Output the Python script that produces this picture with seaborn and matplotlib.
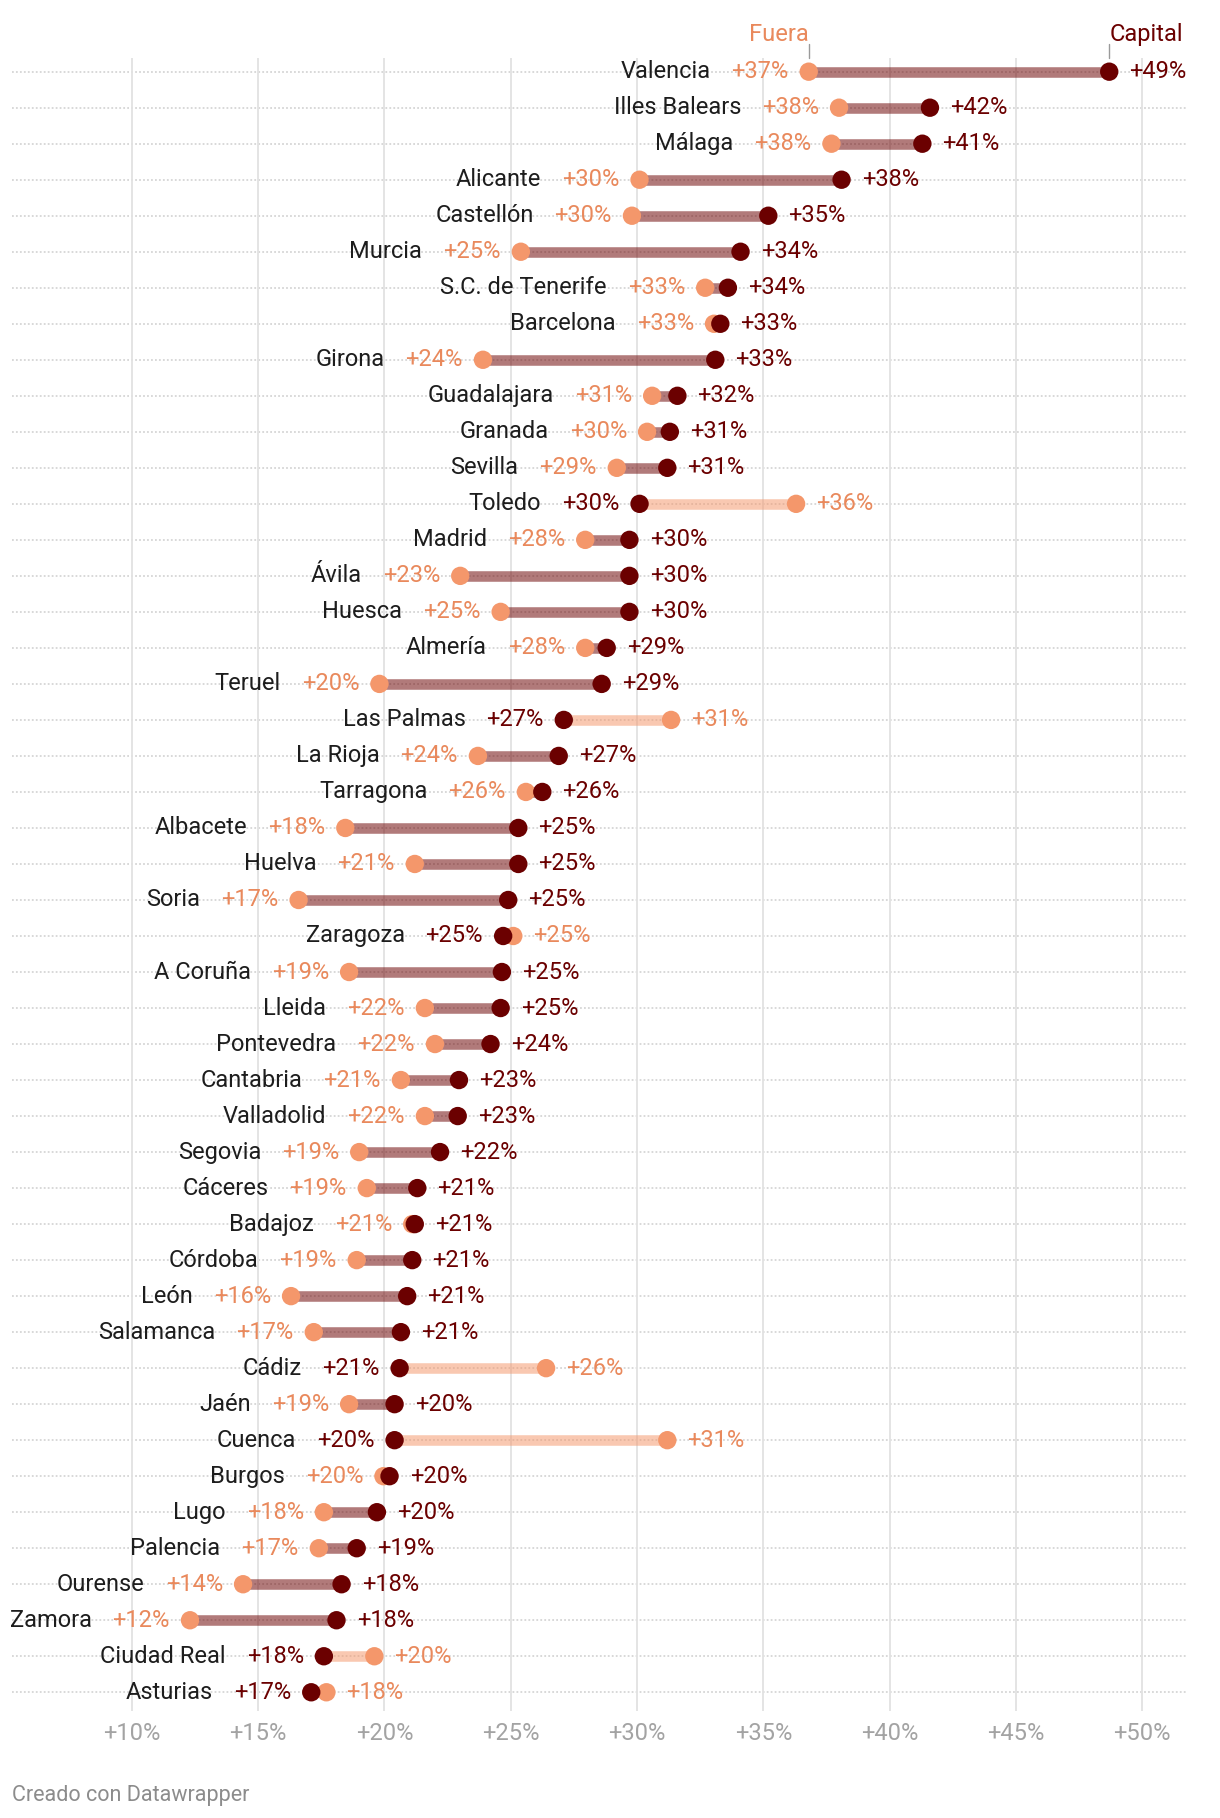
import numpy as np
import pandas as pd
import matplotlib
matplotlib.use("Agg")
import matplotlib.pyplot as plt
import matplotlib.transforms as mtransforms
import seaborn as sns

# ---------------- data ----------------
provincias = ["Valencia", "Illes Balears", "Málaga", "Alicante", "Castellón", "Murcia",
              "S.C. de Tenerife", "Barcelona", "Girona", "Guadalajara", "Granada", "Sevilla",
              "Toledo", "Madrid", "Ávila", "Huesca", "Almería", "Teruel", "Las Palmas",
              "La Rioja", "Tarragona", "Albacete", "Huelva", "Soria", "Zaragoza", "A Coruña",
              "Lleida", "Pontevedra", "Cantabria", "Valladolid", "Segovia", "Cáceres",
              "Badajoz", "Córdoba", "León", "Salamanca", "Cádiz", "Jaén", "Cuenca", "Burgos",
              "Lugo", "Palencia", "Ourense", "Zamora", "Ciudad Real", "Asturias"]

capital = [48.7, 41.6, 41.3, 38.1, 35.2, 34.1,
           33.6, 33.3, 33.1, 31.6, 31.3, 31.2,
           30.1, 29.7, 29.7, 29.7, 28.8, 28.6, 27.1,
           26.9, 26.25, 25.3, 25.3, 24.9, 24.7, 24.65,
           24.6, 24.2, 22.95, 22.9, 22.2, 21.3,
           21.2, 21.1, 20.9, 20.65, 20.6, 20.4, 20.4, 20.2,
           19.7, 18.9, 18.3, 18.1, 17.6, 17.1]

fuera = [36.8, 38.0, 37.7, 30.1, 29.8, 25.4,
         32.7, 33.05, 23.9, 30.6, 30.4, 29.2,
         36.3, 27.95, 23.0, 24.6, 27.95, 19.8, 31.35,
         23.7, 25.6, 18.45, 21.2, 16.6, 25.1, 18.6,
         21.6, 22.0, 20.65, 21.6, 19.0, 19.3,
         21.1, 18.9, 16.3, 17.2, 26.4, 18.6, 31.2, 19.96,
         17.6, 17.4, 14.4, 12.3, 19.6, 17.7]

tick_values = [10, 15, 20, 25, 30, 35, 40, 45, 50]
tick_labels = ["+10%", "+15%", "+20%", "+25%", "+30%", "+35%", "+40%", "+45%", "+50%"]

# ---------------- style ----------------
sns.set_theme(style="white")
plt.rcParams['font.family'] = ['Roboto', 'DejaVu Sans']

C_CAP = '#6b0000'
C_FUE_DOT = '#f4976b'
C_FUE_TXT = '#e9895c'
C_NAME = '#1d1d1d'
FS = 17

df = pd.DataFrame({'provincia': provincias, 'capital': capital, 'fuera': fuera})
df['pos'] = np.arange(len(df))
long = df.melt(id_vars=['provincia', 'pos'], value_vars=['fuera', 'capital'],
               var_name='tipo', value_name='valor')

W, H = 1220, 1818
fig = plt.figure(figsize=(W / 100, H / 100), dpi=100)
ax_top, ax_bot = 58, 1711
ax = fig.add_axes([12 / W, 1 - ax_bot / H, 1174 / W, (ax_bot - ax_top) / H])
ax.set_xlim(5.25, 51.74)
ax.set_ylim(len(df) - 1 + 0.52, -0.38)

# row dotted lines
for p in df['pos']:
    ax.axhline(p, color='#d6d6d6', ls=(0, (1, 1.2)), lw=1.3, zorder=0)

# vertical gridlines
ax.set_xticks(tick_values)
ax.set_xticklabels(tick_labels)
ax.grid(axis='x', color='#e2e2e2', lw=1.3, zorder=0)
ax.grid(axis='y', visible=False)
ax.set_yticks([])
ax.tick_params(axis='x', length=0, pad=8, labelsize=FS, labelcolor='#a3a3a3')
for s in ax.spines.values():
    s.set_visible(False)

# connecting bars (semi-transparent, so the dotted row line shows through)
lo = df[['capital', 'fuera']].min(axis=1)
hi = df[['capital', 'fuera']].max(axis=1)
line_cols = [C_CAP if c >= f else C_FUE_DOT for c, f in zip(df['capital'], df['fuera'])]
ax.hlines(df['pos'], lo, hi, colors=line_cols, lw=7.6, alpha=0.52, zorder=2, capstyle='butt')

# dots
sns.scatterplot(data=long, x='valor', y='pos', hue='tipo',
                palette={'fuera': C_FUE_DOT, 'capital': C_CAP},
                hue_order=['fuera', 'capital'], s=175, linewidth=0,
                legend=False, ax=ax, zorder=3)
ax.set_xlabel('')
ax.set_ylabel('')


def fmt(v):
    return f"+{int(np.floor(v + 0.5))}%"


for _, r in df.iterrows():
    if r['capital'] < r['fuera']:
        lv, lc, rv, rc = r['capital'], C_CAP, r['fuera'], C_FUE_TXT
    else:
        lv, lc, rv, rc = r['fuera'], C_FUE_TXT, r['capital'], C_CAP
    t = ax.annotate(fmt(lv), xy=(lv, r['pos']), xytext=(-14.5, 0), textcoords='offset points',
                    ha='right', va='center', color=lc, fontsize=FS)
    ax.annotate(fmt(rv), xy=(rv, r['pos']), xytext=(14.5, 0), textcoords='offset points',
                ha='left', va='center', color=rc, fontsize=FS)
    ax.annotate(r['provincia'], xy=(0, 0.5), xycoords=t, xytext=(-15, 0),
                textcoords='offset points', ha='right', va='center', color=C_NAME, fontsize=FS)

# header labels for the first row
blend = mtransforms.blended_transform_factory(ax.transData, ax.transAxes)
tick_h = 14 / (ax_bot - ax_top)
for val, lab, col, ha in [(fuera[0], 'Fuera', C_FUE_TXT, 'right'),
                          (capital[0], 'Capital', C_CAP, 'left')]:
    ax.plot([val, val], [1, 1 + tick_h], transform=blend, color='#9a9a9a', lw=1.0, clip_on=False)
    ax.annotate(lab, xy=(val, 1), xycoords=('data', 'axes fraction'), xytext=(0, 8.5),
                textcoords='offset points', ha=ha, va='bottom', color=col, fontsize=FS)

fig.text(12 / W, 1 - 1795 / H, 'Creado con Datawrapper', va='center', ha='left',
         color='#8c8c8c', fontsize=15.5)

fig.savefig('out.png', dpi=100, facecolor='white')
